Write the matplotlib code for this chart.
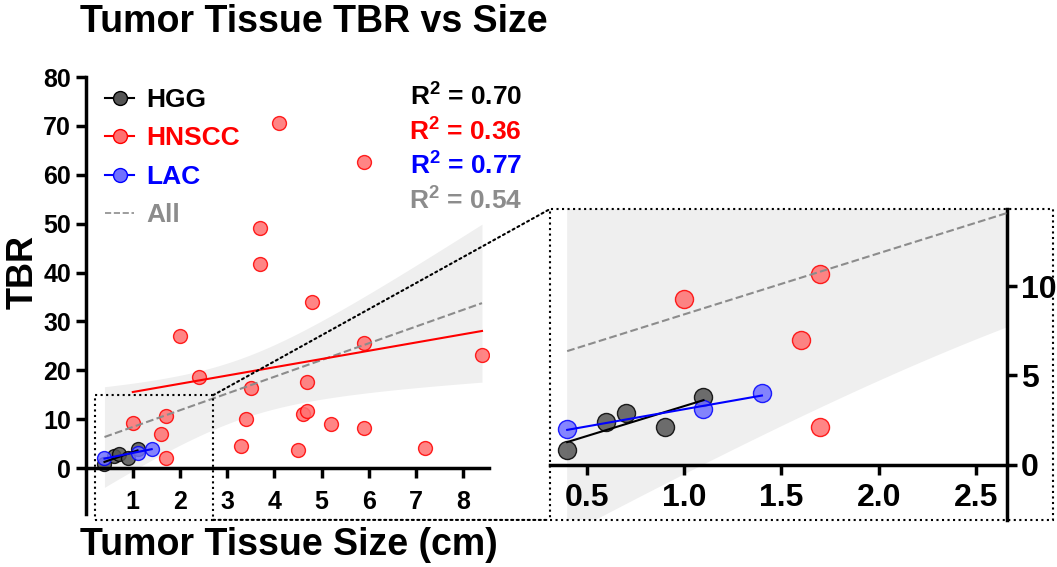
import numpy as np
import matplotlib.pyplot as plt
from matplotlib.lines import Line2D
from matplotlib.patches import Rectangle, ConnectionPatch

plt.rcParams['font.family'] = ['Liberation Sans', 'DejaVu Sans']
plt.rcParams['font.weight'] = 'bold'
plt.rcParams['mathtext.fontset'] = 'custom'
plt.rcParams['mathtext.rm'] = 'Liberation Sans:bold'
plt.rcParams['mathtext.it'] = 'Liberation Sans:bold'
plt.rcParams['mathtext.bf'] = 'Liberation Sans:bold'

# --- dados ---
hgg_x = [0.4, 0.6, 0.7, 0.9, 1.1]
hgg_y = [0.8, 2.4, 2.9, 2.1, 3.8]

lac_x = [0.4, 1.1, 1.4]
lac_y = [2.0, 3.1, 4.0]

hnscc_x = [1.0, 1.6, 1.7, 1.7, 2.0, 2.4, 3.3, 3.4, 3.5, 3.7, 3.7, 4.1,
           4.5, 4.6, 4.7, 4.7, 4.8, 5.2, 5.9, 5.9, 5.9, 7.2, 8.4]
hnscc_y = [9.3, 7.0, 10.7, 2.1, 27.0, 18.6, 4.5, 10.0, 16.4, 49.1, 41.7, 70.6,
           3.7, 11.0, 11.7, 17.6, 33.9, 9.0, 62.6, 25.6, 8.2, 4.2, 23.1]

r2_labels = ["0.70", "0.36", "0.77", "0.54"]

groups = [
    ("HGG", hgg_x, hgg_y, "black", "#555555"),
    ("HNSCC", hnscc_x, hnscc_y, "red", "#ff7070"),
    ("LAC", lac_x, lac_y, "blue", "#7070ff"),
]
all_color = "#8c8c8c"

# --- regressao geral + banda de confianca ---
all_x = np.array(hgg_x + lac_x + hnscc_x)
all_y = np.array(hgg_y + lac_y + hnscc_y)
a, b = np.polyfit(all_x, all_y, 1)
n = len(all_x)
s = np.sqrt(np.sum((all_y - (a * all_x + b)) ** 2) / (n - 2))
xbar = all_x.mean()
sxx = np.sum((all_x - xbar) ** 2)
xx = np.linspace(all_x.min(), all_x.max(), 200)
hw = 2.04 * s * np.sqrt(1 / n + (xx - xbar) ** 2 / sxx)
yy = a * xx + b

fig = plt.figure(figsize=(10.57, 5.67), dpi=100)
ax = fig.add_axes([0.081, 0.0926, 0.3817, 0.7714])
axin = fig.add_axes([0.520, 0.083, 0.433, 0.548])


def draw(axis, ms):
    axis.fill_between(xx, yy - hw, yy + hw, color="#efefef", lw=0, zorder=0)
    axis.plot(xx, yy, ls="--", color=all_color, lw=1.5, zorder=3)
    for name, x, y, c, face in groups:
        axis.plot(x, y, "o", ms=ms, mfc=face, mec=c, alpha=0.85, mew=1, zorder=2)
        k, c0 = np.polyfit(x, y, 1)
        lx = np.array([min(x), max(x)])
        axis.plot(lx, k * lx + c0, color=c, lw=1.5, zorder=4)


draw(ax, 10)
draw(axin, 13)

# --- eixo principal ---
ax.set_xlim(0, 8.55)
ax.set_ylim(-9.5, 80)
ax.spines["top"].set_visible(False)
ax.spines["right"].set_visible(False)
ax.spines["bottom"].set_position(("data", 0))
for sp in ["left", "bottom"]:
    ax.spines[sp].set_linewidth(2.5)
ax.set_xticks(range(1, 9))
ax.set_yticks(range(0, 81, 10))
ax.tick_params(width=2.5, length=7, labelsize=18)
ax.tick_params(axis="x", pad=9)
fig.text(0.273, 0.039, "Tumor Tissue Size (cm)", fontsize=27, ha="center", va="center")
fig.text(0.022, 0.52, "TBR", fontsize=26, rotation=90, ha="center", va="center")
fig.text(0.076, 0.962, "Tumor Tissue TBR vs Size", fontsize=27, va="center")

handles = [Line2D([], [], color=c, marker="o", ms=10, mfc=face, mec=c, lw=1.5)
           for _, _, _, c, face in groups]
handles.append(Line2D([], [], color=all_color, ls="--", lw=1.2))
ax.legend(handles, ["HGG", "HNSCC", "LAC", "All"], loc="upper left",
          bbox_to_anchor=(-0.01, 1.03), frameon=False, fontsize=19,
          labelcolor=["black", "red", "blue", all_color],
          handlelength=1.1, handletextpad=0.45, labelspacing=0.55)

for i, (r2, c) in enumerate(zip(r2_labels, ["black", "red", "blue", all_color])):
    fig.text(0.494, 0.829 - i * 0.061, r"R$^{2}$ = " + r2, color=c,
             fontsize=19, ha="right", va="center")

# --- inset ---
axin.set_xlim(0.31, 2.66)
axin.set_ylim(-3.1, 14.3)
axin.spines["top"].set_visible(False)
axin.spines["left"].set_visible(False)
axin.spines["bottom"].set_position(("data", 0))
for sp in ["right", "bottom"]:
    axin.spines[sp].set_linewidth(2.5)
axin.yaxis.tick_right()
axin.set_xticks([0.5, 1.0, 1.5, 2.0, 2.5])
axin.set_yticks([0, 5, 10])
axin.tick_params(width=2.5, length=7, labelsize=23)
axin.tick_params(axis="x", pad=6)
axin.tick_params(axis="y", pad=3)
axin.patch.set_alpha(0)

# --- caixas pontilhadas e ligacoes ---
ax.add_patch(Rectangle((0.2, -10.6), 2.5, 25.5, fill=False, ls=":", lw=1.5,
                       color="black", clip_on=False, zorder=5))
axin.add_patch(Rectangle((0, 0), 1.10, 1, transform=axin.transAxes, fill=False,
                         ls=":", lw=1.5, color="black", clip_on=False, zorder=5))
for ya, yb in [(14.9, 1), (-10.6, 0)]:
    con = ConnectionPatch(xyA=(2.7, ya), coordsA=ax.transData,
                          xyB=(0, yb), coordsB=axin.transAxes,
                          ls=":", lw=1.5, color="black", zorder=5)
    fig.add_artist(con)

fig.savefig("out.png", dpi=100)
